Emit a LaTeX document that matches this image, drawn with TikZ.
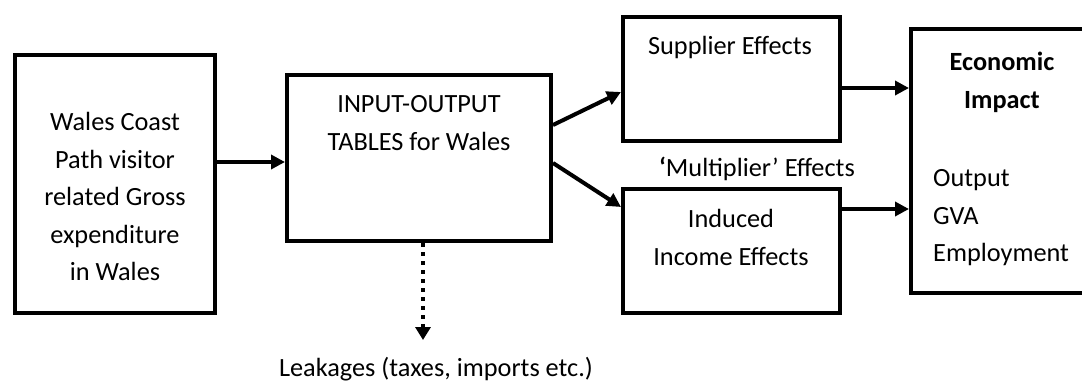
\documentclass[tikz,border=0pt]{standalone}
\usepackage{fontspec}
\setmainfont{Carlito}
\usetikzlibrary{arrows.meta,calc}
\begin{document}
\begin{tikzpicture}[x=1pt,y=-1pt,
  box/.style={draw,line width=4pt,inner sep=0pt,minimum width=#1},
  lbl/.style={font=\fontsize{26.3}{37.5}\selectfont,align=center,inner sep=0pt,anchor=base},
  arr/.style={line width=4pt,-{Triangle[length=14pt,width=14pt]}},
  leak/.style={line width=4pt,dash pattern=on 4pt off 5pt,-{Triangle[length=13pt,width=15pt]}}]
\useasboundingbox (0,0) rectangle (1082,381);
\clip (0,0) rectangle (1082,381);
% boxes
\node[box=200pt,minimum height=258pt] (lbox) at (115,184) {};
\node[box=264pt,minimum height=166pt] (mbox) at (419,158) {};
\node[box=217pt,minimum height=124pt] (sbox) at (731.5,79) {};
\node[box=217pt,minimum height=124pt] (ibox) at (731.5,251) {};
\node[box=200pt,minimum height=264pt] (ebox) at (1011,161) {};
% texts (anchor base = baseline of the last line)
\node[lbl] (ltxt) at (115,280.7) {Wales Coast\\Path visitor\\related Gross\\expenditure\\in Wales};
\node[lbl] (mtxt) at (419,150) {INPUT-OUTPUT\\TABLES for Wales};
\node[lbl] (stxt) at (730,54) {Supplier Effects};
\node[lbl] (multxt) at (757,176) {{\bfseries ‘}Multiplier’ Effects};
\node[lbl] (itxt) at (731,265) {Induced\\Income Effects};
\node[lbl,font=\fontsize{26.3}{38}\selectfont\bfseries] (etxt) at (1002,108.5) {Economic\\Impact};
\node[lbl,align=left,anchor=base west] (otxt) at (933,261.7) {Output\\GVA\\Employment};
\node[lbl] (leaktxt) at (436,376.7) {Leakages (taxes, imports etc.)};
% connectors
\draw[arr] ($(lbox.east)+(0,-22)$) -- ($(mbox.west)+(0,4)$);
\draw[arr] ($(mbox.east)+(0,-33)$) -- ($(sbox.west)+(0,13)$);
\draw[arr] ($(mbox.east)+(0,5)$) -- ($(ibox.west)+(0,-44)$);
\draw[arr] ($(sbox.east)+(0,9)$) -- ($(ebox.west)+(0,-73)$);
\draw[arr] ($(ibox.east)+(0,-42)$) -- ($(ebox.west)+(0,48)$);
\coordinate (leakend) at (423,340);
\draw[leak] ($(mbox.south)+(4,0)$) -- (leakend);
\end{tikzpicture}
\end{document}
